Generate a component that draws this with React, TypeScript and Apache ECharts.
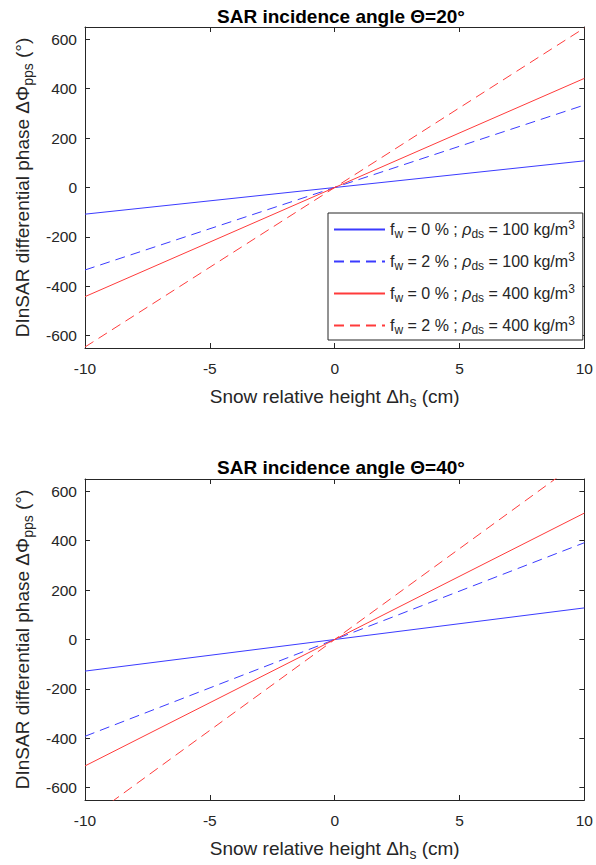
import React, { useEffect, useRef } from "react";
import * as echarts from "echarts";

// Snow relative height (cm)
const heights = [-10, 0, 10];
// DInSAR differential phase (deg), incidence angle 20°
const phase20_fw0_rho100 = [-108, 0, 108];
const phase20_fw2_rho100 = [-334, 0, 334];
const phase20_fw0_rho400 = [-442, 0, 442];
const phase20_fw2_rho400 = [-646, 0, 646];
// DInSAR differential phase (deg), incidence angle 40°
const phase40_fw0_rho100 = [-128, 0, 128];
const phase40_fw2_rho100 = [-392, 0, 392];
const phase40_fw0_rho400 = [-512, 0, 512];
const phase40_fw2_rho400 = [-736, 0, 736];

const yTicks = [-600, -400, -200, 0, 200, 400, 600];
const titles = ["SAR incidence angle Θ=20°", "SAR incidence angle Θ=40°"];

const seriesKeys = ["a", "b", "c", "d"];
const legendLabels: Record<string, string> = {
  a: "{t|f}{s|w}{t| = 0 % ; }{g|ρ}{s|ds}{t| = 100 kg/m}{p|3}",
  b: "{t|f}{s|w}{t| = 2 % ; }{g|ρ}{s|ds}{t| = 100 kg/m}{p|3}",
  c: "{t|f}{s|w}{t| = 0 % ; }{g|ρ}{s|ds}{t| = 400 kg/m}{p|3}",
  d: "{t|f}{s|w}{t| = 2 % ; }{g|ρ}{s|ds}{t| = 400 kg/m}{p|3}",
};

const FONT = "'Liberation Sans', Arial, Helvetica, sans-serif";
const INK = "#262626";
const BLUE = "#3b3bff";
const RED = "#ff3b3b";
const DASH = [10, 6];

// rich-text styles with sub/superscript offsets for a given base size
function makeRich(size: number, sub: number, shift: number) {
  return {
    t: { fontSize: size, color: INK, fontFamily: FONT },
    g: { fontSize: size, color: INK, fontFamily: FONT, fontStyle: "italic" },
    s: { fontSize: sub, color: INK, fontFamily: FONT, padding: [shift, 0, 0, 0] },
    p: { fontSize: sub, color: INK, fontFamily: FONT, padding: [0, 0, shift, 0] },
  };
}

const labelRich = makeRich(19, 14, 11);
const legendRich = makeRich(16, 12, 9);

export default function App() {
  const ref = useRef<HTMLDivElement>(null);

  useEffect(() => {
    if (!ref.current) return;
    const chart = echarts.init(ref.current, null, { renderer: "svg" });

    const grids = [
      { left: 85, right: 11, top: 27, height: 321 },
      { left: 85, right: 11, top: 479, height: 321 },
    ];

    const xAxes: any[] = [];
    const yAxes: any[] = [];
    grids.forEach((_, g) => {
      const base = {
        gridIndex: g,
        type: "value",
        min: -10,
        max: 10,
        interval: 5,
        axisLine: { show: true, onZero: false, lineStyle: { color: INK, width: 1 } },
        axisTick: { show: true, inside: true, length: 5, lineStyle: { color: INK } },
        splitLine: { show: false },
      };
      xAxes.push({
        ...base,
        position: "bottom",
        axisLabel: { show: true, margin: 12, fontSize: 15.5, color: INK, fontFamily: FONT },
        name: "{t|Snow relative height Δh}{s|s}{t| (cm)}",
        nameLocation: "middle",
        nameGap: 36,
        nameTextStyle: { rich: labelRich },
      });
      xAxes.push({ ...base, position: "top", axisLabel: { show: false } });

      const ybase = {
        gridIndex: g,
        type: "value",
        min: -650,
        max: 650,
        axisLine: { show: true, onZero: false, lineStyle: { color: INK, width: 1 } },
        axisTick: { show: true, inside: true, length: 5, lineStyle: { color: INK }, customValues: yTicks },
        splitLine: { show: false },
      };
      yAxes.push({
        ...ybase,
        position: "left",
        axisLabel: { show: true, margin: 8, fontSize: 15.5, color: INK, fontFamily: FONT, customValues: yTicks },
        name: "{t|DInSAR differential phase ΔΦ}{s|pps}{t| (°)}",
        nameLocation: "middle",
        nameRotate: 90,
        nameGap: 48,
        nameTextStyle: { rich: labelRich },
      });
      yAxes.push({ ...ybase, position: "right", axisLabel: { show: false } });
    });

    const groups = [
      [phase20_fw0_rho100, phase20_fw2_rho100, phase20_fw0_rho400, phase20_fw2_rho400],
      [phase40_fw0_rho100, phase40_fw2_rho100, phase40_fw0_rho400, phase40_fw2_rho400],
    ];
    const styles = [
      { color: BLUE, type: "solid" },
      { color: BLUE, type: DASH },
      { color: RED, type: "solid" },
      { color: RED, type: DASH },
    ];

    const series: any[] = [];
    groups.forEach((vals, g) => {
      vals.forEach((v, i) => {
        series.push({
          type: "line",
          name: seriesKeys[i],
          xAxisIndex: g * 2,
          yAxisIndex: g * 2,
          data: heights.map((h, k) => [h, v[k]]),
          symbol: "none",
          clip: true,
          color: styles[i].color,
          lineStyle: { color: styles[i].color, width: 1, type: styles[i].type },
        });
      });
    });

    chart.setOption({
      animation: false,
      backgroundColor: "#ffffff",
      textStyle: { fontFamily: FONT },
      title: titles.map((t, i) => ({
        text: t,
        left: 336,
        textAlign: "center",
        top: i === 0 ? 2 : 453,
        textStyle: { fontSize: 19, fontWeight: "bold", color: "#000", fontFamily: FONT },
      })),
      grid: grids,
      xAxis: xAxes,
      yAxis: yAxes,
      legend: {
        data: seriesKeys,
        orient: "vertical",
        left: 328,
        top: 213,
        itemWidth: 51,
        itemHeight: 10,
        itemGap: 11,
        padding: [6, 8, 4, 5],
        backgroundColor: "#fff",
        borderColor: INK,
        borderWidth: 1,
        borderRadius: 0,
        selectedMode: false,
        itemStyle: { opacity: 0 },
        lineStyle: { opacity: 1 },
        formatter: (name: string) => legendLabels[name],
        textStyle: { rich: legendRich },
      },
      series,
    });

    return () => chart.dispose();
  }, []);

  return (
    <div
      ref={ref}
      style={{ position: "fixed", left: 0, top: 0, width: 596, height: 865, background: "#fff" }}
    />
  );
}
